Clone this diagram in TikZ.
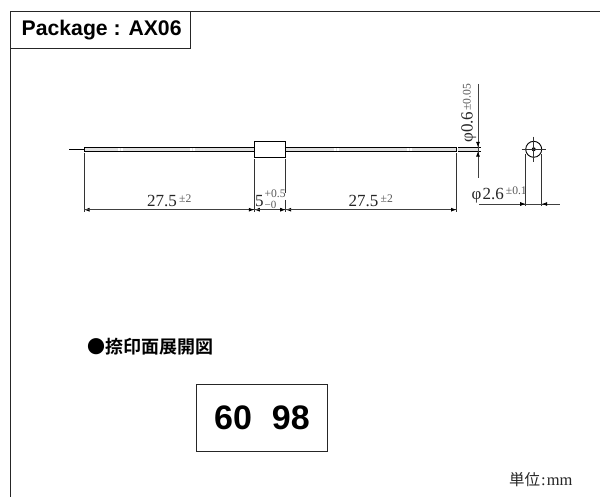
\documentclass[tikz,border=0pt]{standalone}
\usepackage{fontspec}
\setmainfont{Liberation Serif}
\setsansfont{Liberation Sans}
\newfontfamily\cjkb{Noto Sans CJK JP Bold}
\newfontfamily\cjk{Noto Sans CJK JP}
\usetikzlibrary{arrows.meta}
\tikzset{
  x=1pt,y=-1pt,
  frame/.style={draw=black!85,line width=0.9pt},
  dim/.style={draw=black!75,line width=0.8pt},
  ext/.style={draw=black!80,line width=0.8pt},
  tipa/.style={-{Latex[length=5.5pt,width=4pt,black]}},
  dimtext/.style={inner sep=0pt,text=black!85,font=\fontsize{17}{17}\selectfont,anchor=base west},
  toltext/.style={inner sep=0pt,text=black!65,font=\fontsize{11.6}{12}\selectfont,anchor=base west},
  lead/.style={draw=black,line width=0.9pt},
}
\begin{document}
\begin{tikzpicture}
\useasboundingbox (0,0) rectangle (600,497);
\fill[white] (0,0) rectangle (600,497);
% frame
\coordinate (fbl) at (10,497); \coordinate (ftl) at (10,11); \coordinate (ftr) at (600,11);
\draw[frame] (ftr)--(ftl)--(fbl);
\node[draw=black!85,line width=0.9pt,minimum width=180.4pt,minimum height=37pt,inner sep=0pt,anchor=north west,font=\sffamily\bfseries\fontsize{21.2}{22}\selectfont] (title) at (10,11) {\hspace{2pt}Package : AX06};
% component
\fill[black!12] (84,147.3) rectangle (254,151.1);
\fill[black!12] (286,147.3) rectangle (456,151.1);
\fill[black!12] (458,147.3) rectangle (478,151.1);
\node[draw=black,line width=0.9pt,fill=white,minimum width=31.4pt,minimum height=16.3pt,inner sep=0pt] (body) at (270,149.2) {};
\coordinate (stubL) at (69,149.2); \coordinate (stubE) at (84,149.2);
\draw[lead] (stubL)--(stubE);
\coordinate (l1) at (84,147.3); \coordinate (l2) at (84,151.1);
\coordinate (r1) at (456,147.3); \coordinate (r2) at (456,151.1);
\draw[lead] (body.west|-l1)--(l1)--(l2)--(body.west|-l2);
\draw[lead] (body.east|-r1)--(r1)--(r2)--(body.east|-r2);
\coordinate (s1) at (458,147.3); \coordinate (s2) at (458,151.1);
\coordinate (s3) at (481,147.3); \coordinate (s4) at (481,151.1);
\draw[lead] (s1)--(s3) (s2)--(s4);
\foreach \x in {118.5,121.5,190.5,193.5,335,338,407.5,410.5}{\fill[white] (\x-1,147.8) rectangle (\x+1,150.6);}
% extension lines and dimension row
\coordinate (d1) at (84,209.7);
\coordinate (d2) at (254.3,209.7);
\coordinate (d3) at (285.7,209.7);
\coordinate (d4) at (456.5,209.7);
\draw[ext] (84,153)--(84,212);
\draw[ext] (254.3,159)--(254.3,212);
\draw[ext] (285.7,159)--(285.7,193) (285.7,200)--(285.7,212);
\draw[ext] (456.5,153)--(456.5,212);
\draw[dim,tipa] (d2)--(d1);
\draw[dim,tipa] (d1)--(d2);
\draw[dim,tipa] (d3)--(d2);
\draw[dim,tipa] (d2)--(d3);
\draw[dim,tipa] (d4)--(d3);
\draw[dim,tipa] (d3)--(d4);
\node[dimtext] (a1) at (147,207) {27.5};
\node[toltext] (a2) at (179,202.7) {±2};
\node[dimtext] (b1) at (255,207) {5};
\node[toltext] (b2) at (264.4,197.4) {+0.5};
\node[toltext,font=\fontsize{11}{12}\selectfont] (b3) at (264.4,208.2) {−0};
\node[dimtext] (c1) at (348.5,207) {27.5};
\node[toltext] (c2) at (380.5,202.7) {±2};
% lead diameter
\coordinate (v1) at (478,84); \coordinate (v2) at (478,178);
\coordinate (v3) at (478,147.3); \coordinate (v4) at (478,151.1);
\draw[dim] (v1)--(v2);
\draw[dim,tipa] (478,140)--(v3);
\draw[dim,tipa] (478,158)--(v4);
\node[dimtext,rotate=90] (e1) at (472.7,143) {φ};
\node[dimtext,rotate=90] (e2) at (472.7,133) {0.6};
\node[toltext,rotate=90] (e3) at (470.5,110.7) {±0.05};
% end view
\node[circle,draw=black,line width=0.9pt,minimum size=16pt,inner sep=0pt] (end) at (533.7,149.3) {};
\fill[black] (end.center) circle (2pt);
\coordinate (h1) at (521.7,149.3); \coordinate (h2) at (546,149.3);
\coordinate (w1) at (533.7,136.7); \coordinate (w2) at (533.7,161.7);
\draw[draw=black!80,line width=0.6pt] (h1)--(h2) (w1)--(w2);
\draw[ext] (525.7,154)--(525.7,206);
\draw[ext] (541.7,154)--(541.7,206);
\coordinate (x1) at (479.3,204); \coordinate (x2) at (560,204);
\coordinate (p1) at (525.7,204); \coordinate (p2) at (541.7,204);
\draw[dim] (x1)--(x2);
\draw[dim,tipa] (518,204)--(p1);
\draw[dim,tipa] (549,204)--(p2);
\node[dimtext] (f1) at (471.5,200) {φ};
\node[dimtext] (f2) at (482.5,200) {2.6};
\node[toltext] (f3) at (505.7,194.3) {±0.1};
% marking
\node[inner sep=0pt,anchor=west,font=\cjkb\fontsize{18}{18}\selectfont] (mark) at (87,346.7) {●捺印面展開図};
\node[draw=black!85,line width=0.9pt,minimum width=130.6pt,minimum height=67pt,inner sep=0pt,font=\sffamily\bfseries\fontsize{34}{34}\selectfont] (code) at (262,417.5) {60\hspace{20pt}98};
\node[inner sep=0pt,anchor=base west,text=black!85] (unit) at (509,485) {{\cjk\fontsize{15.5}{15}\selectfont 単位}{\fontsize{16.5}{15}\selectfont\hspace{1pt}:\hspace{1pt}mm}};
\end{tikzpicture}
\end{document}
